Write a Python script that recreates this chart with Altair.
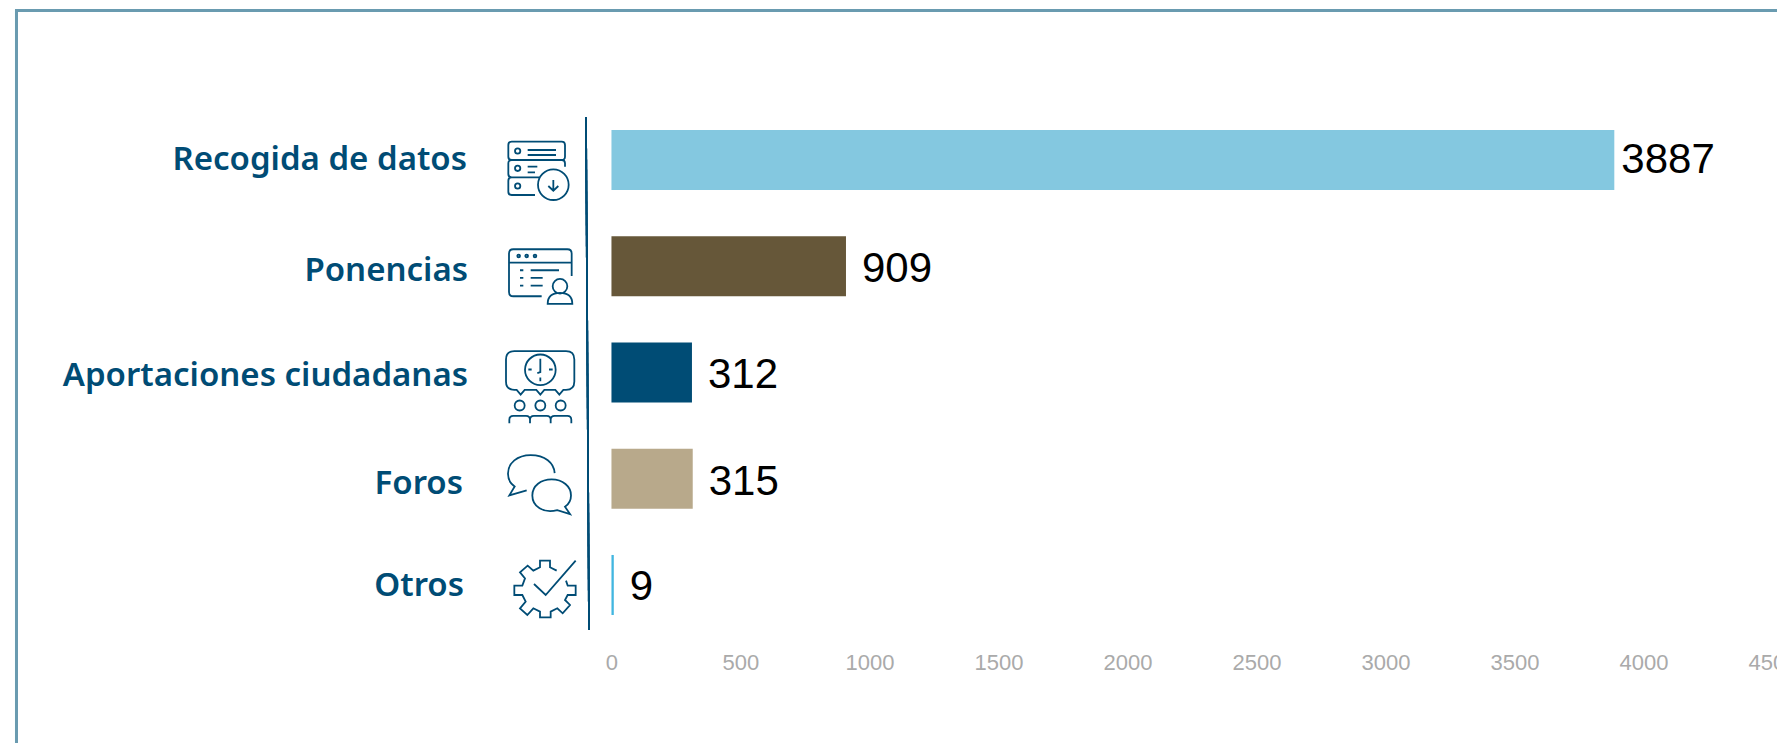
import re
import altair as alt
import pandas as pd

categories = ["Recogida de datos", "Ponencias", "Aportaciones ciudadanas", "Foros", "Otros"]
values = [3887, 909, 312, 315, 9]
bar_colors = ["#84c8e0", "#665739", "#004c75", "#b8a98b", "#41b6e0"]
x_ticks = [0, 500, 1000, 1500, 2000, 2500, 3000, 3500, 4000, 4500]

NAVY = "#004c75"
FRAME = "#6a9bb0"
PLOT_W = 1761
PLOT_H = 733
LABEL_NUDGE = [(0, 0), (1, 5), (1, 3), (-4, 5), (-3, 1)]
VALUE_NUDGE = [(7, 0), (16, 3), (16, 2), (16, 3), (16, 2)]


def circle(x, y, r):
    k = 0.5523 * r
    return (f"M{x+r},{y} C{x+r},{y+k} {x+k},{y+r} {x},{y+r} C{x-k},{y+r} {x-r},{y+k} {x-r},{y} "
            f"C{x-r},{y-k} {x-k},{y-r} {x},{y-r} C{x+k},{y-r} {x+r},{y-k} {x+r},{y} Z ")


def to_icon(path, cx, cy):
    """Re-centre a path sketched at 3x zoom so that one unit is one pixel."""
    state = {"i": 0}

    def repl(m):
        c = cy if state["i"] % 2 else cx
        state["i"] += 1
        return f"{(float(m.group()) - c) / 3:.2f}"

    return re.sub(r"-?\d+(\.\d+)?", repl, path)


icon_recogida = to_icon(
    "M95,125 L245,125 Q255,125 255,135 L255,170 Q255,180 245,180 L95,180 Q85,180 85,170 L85,135 Q85,125 95,125 Z "
    "M245,180 Q255,180 255,190 L255,200 M180,232 L95,232 Q85,232 85,222 L85,190 Q85,180 95,180 "
    "M95,232 Q85,232 85,242 L85,275 Q85,285 95,285 L165,285 "
    + circle(113, 153, 8) + circle(113, 205, 8) + circle(113, 258, 8) + circle(220, 254, 46)
    + "M143,150 L228,150 M143,165 L228,165 M143,200 L172,200 M143,217 L165,217 "
    "M220,240 L220,272 M205,258 L220,272 L235,258",
    150, 180,
)
icon_ponencias = to_icon(
    "M185,588 L100,588 Q87,588 87,575 L87,460 Q87,447 100,447 L262,447 Q275,447 275,460 L275,527 "
    "M87,487 L275,487 "
    + circle(116, 467, 4) + circle(140, 467, 4) + circle(165, 467, 4)
    + "M120,510 L130,510 M120,533 L130,533 M120,556 L130,556 "
    "M152,510 L237,510 M152,533 L188,533 M152,556 L188,556 "
    + circle(240, 558, 22)
    + "M203,611 Q203,578 240,578 Q277,578 277,611 Z",
    150, 498,
)
icon_aportaciones = to_icon(
    "M103,62 L258,62 Q283,62 283,87 L283,153 Q283,178 258,178 L250,178 L238,192 L226,178 L193,178 "
    "L181,192 L169,178 L134,178 L122,192 L110,178 L103,178 Q78,178 78,153 L78,87 Q78,62 103,62 Z "
    + circle(181, 118, 46)
    + "M181,85 L181,125 L172,128 M181,141 L181,152 M145,117 L155,117 M207,117 L218,117 "
    + circle(119, 225, 15) + circle(181, 225, 15) + circle(242, 225, 15)
    + "M88,278 L88,268 Q88,256 100,256 L138,256 Q150,256 150,268 L150,278 "
    "M150,268 Q150,256 162,256 L200,256 Q212,256 212,268 L212,278 "
    "M212,268 Q212,256 224,256 L262,256 Q274,256 274,268 L274,278",
    150, 126,
)
icon_foros = to_icon(
    "M224,430 C222,400 195,376 152,376 C112,376 84,400 84,432 C84,450 92,462 104,470 L88,497 L140,482 "
    "M232,541 C190,552 157,530 157,497 C157,468 183,449 215,449 C248,449 273,470 273,497 "
    "C273,512 265,524 255,531 L270,553 Z",
    150, 447,
)
icon_otros = to_icon(
    "M230,722 L210,712 L210,692 L180,692 L180,712 L160,722 L143,707 L120,727 L135,745 L127,767 L103,767 "
    "L103,795 L127,795 L137,815 L120,835 L142,855 L160,835 L180,845 L180,862 L212,862 L212,845 L232,835 "
    "L248,850 L270,825 L255,810 L263,795 L287,795 L287,767 L263,767 L258,752 "
    "M162,762 L197,795 L287,692",
    150, 765,
)
icons = [icon_recogida, icon_ponencias, icon_aportaciones, icon_foros, icon_otros]

df = pd.DataFrame({"cat": categories, "value": values, "color": bar_colors, "icon": icons})

y_enc = alt.Y(
    "cat:N",
    sort=categories,
    axis=None,
    scale=alt.Scale(domain=categories, range=[96.9, 628.1], paddingInner=0.435, paddingOuter=0.2175),
)
x_scale = alt.Scale(domain=[-2308, 4517.6], nice=False, zero=False)

base = alt.Chart(df)

bars = base.mark_bar(cornerRadius=0).encode(
    x=alt.X(
        "value:Q",
        scale=x_scale,
        title=None,
        axis=alt.Axis(
            values=x_ticks, format="d", domain=False, ticks=False, grid=False, offset=-93, labelPadding=2,
            labelColor="#aaaaaa", labelFont="Liberation Sans", labelFontSize=22,
            labelFlush=False, labelOverlap=False,
        ),
    ),
    x2=alt.datum(0),
    y=y_enc,
    color=alt.Color("color:N", scale=None, legend=None),
)

divider = base.mark_rule(color=NAVY, strokeWidth=1.7).encode(
    x=alt.value(570), x2=alt.value(573), y=alt.value(107), y2=alt.value(620)
)
frame_top = base.mark_rule(color=FRAME, strokeWidth=2.6).encode(
    x=alt.value(-1), x2=alt.value(PLOT_W), y=alt.value(0.5)
)
frame_left = base.mark_rule(color=FRAME, strokeWidth=2.6).encode(
    x=alt.value(0.3), y=alt.value(-1), y2=alt.value(PLOT_H)
)

icon_layer = base.mark_point(filled=False, stroke=NAVY, strokeWidth=1.8, opacity=1).encode(
    x=alt.value(514),
    y=y_enc,
    shape=alt.Shape("icon:N", scale=None, legend=None),
    size=alt.value(4),
)

layers = [frame_top, frame_left, bars, divider, icon_layer]
for cat, (ldx, ldy), (vdx, vdy) in zip(categories, LABEL_NUDGE, VALUE_NUDGE):
    one = base.transform_filter(alt.datum.cat == cat)
    layers.append(
        one.mark_text(
            align="right", baseline="middle", dx=ldx, dy=ldy, font="Noto Sans", fontWeight=600,
            fontSize=33, color=NAVY,
        ).encode(x=alt.value(451), y=y_enc, text="cat:N")
    )
    layers.append(
        one.mark_text(
            align="left", baseline="middle", dx=vdx, dy=vdy, font="Liberation Sans", fontSize=42, color="#000000",
        ).encode(x=alt.X("value:Q", scale=x_scale), y=y_enc, text="value:Q")
    )

chart = (
    alt.layer(*layers)
    .properties(
        width=PLOT_W,
        height=PLOT_H,
        padding={"left": 8, "top": 2, "right": 0, "bottom": 0},
        autosize=alt.AutoSizeParams(type="none"),
        background="white",
    )
    .configure_view(stroke=None)
)

chart.save("out.html", embed_options={"renderer": "svg", "actions": False})
